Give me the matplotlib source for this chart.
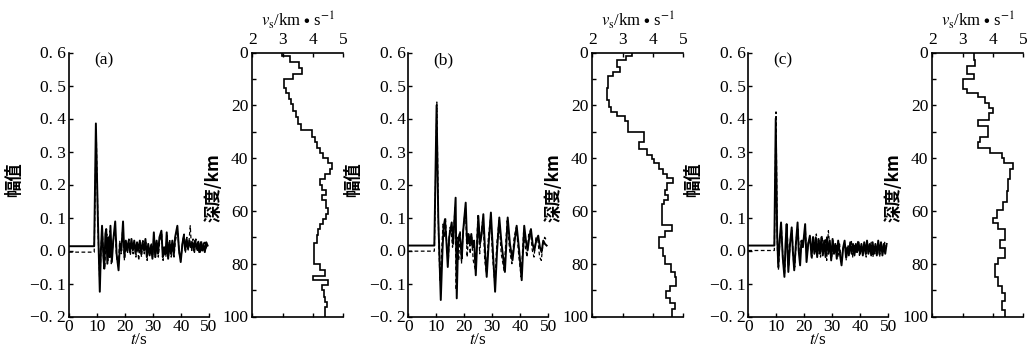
import numpy as np
import matplotlib
matplotlib.use("Agg")
import matplotlib.pyplot as plt

plt.rcParams['font.family'] = ['Liberation Serif', 'DejaVu Serif']
plt.rcParams['mathtext.fontset'] = 'stix'

# ---------------- data ----------------
# receiver functions: (t [s], amplitude) ; solid = observed, dashed = synthetic
rf_a_solid = [(0, 0.013), (9.0, 0.013), (9.6, 0.385), (10.3, 0.10), (11.0, -0.125), (11.4, 0.0), (11.8, 0.075),
              (12.3, -0.02), (12.6, -0.055), (13.0, 0.05), (13.3, 0.065), (13.7, -0.04), (14.1, 0.04), (14.5, -0.02),
              (14.8, 0.075), (15.3, -0.035), (15.8, 0.03), (16.5, 0.088), (17.0, -0.01), (17.7, -0.06), (18.2, 0.02),
              (18.7, 0.0), (19.3, 0.088), (19.8, -0.02), (20.3, 0.03), (20.8, 0.0), (21.3, 0.03), (21.8, -0.005),
              (22.3, 0.035), (22.8, 0.0), (23.3, 0.03), (23.8, -0.01), (24.3, 0.025), (24.8, 0.0), (25.3, 0.03),
              (25.8, -0.01), (26.3, 0.025), (26.8, 0.0), (27.3, 0.035), (27.8, -0.02), (28.3, 0.02), (28.8, -0.015),
              (29.3, 0.015), (29.8, -0.025), (30.3, 0.055), (30.8, -0.02), (31.3, 0.03), (31.8, -0.01), (32.3, 0.04),
              (33.0, 0.06), (33.5, -0.02), (34.0, 0.01), (34.5, -0.01), (34.9, 0.055), (35.4, -0.025), (35.9, 0.025),
              (36.4, -0.01), (36.9, 0.03), (37.4, -0.015), (37.9, 0.04), (38.7, 0.075), (39.3, 0.0), (39.9, -0.035),
              (40.5, 0.02), (41.0, 0.045), (41.5, 0.0), (42.0, 0.035), (42.5, 0.005), (43.0, 0.03), (43.5, 0.01),
              (44.0, 0.025), (44.5, 0.0), (45.0, 0.03), (45.5, 0.005), (46.0, 0.025), (46.5, -0.005), (47.0, 0.025),
              (47.5, 0.0), (48.0, 0.02), (48.5, -0.005), (49.0, 0.025), (49.5, 0.015)]
rf_a_dashed = [(0, -0.005), (9.0, -0.005), (9.7, 0.37), (10.4, 0.05), (11.0, -0.10), (11.5, 0.02), (11.9, 0.06),
               (12.4, -0.04), (12.8, -0.05), (13.2, 0.04), (13.5, 0.05), (13.9, -0.03), (14.3, 0.03), (14.7, 0.06),
               (15.1, -0.04), (15.7, 0.02), (16.4, 0.07), (17.0, -0.02), (17.6, -0.05), (18.1, 0.03), (18.6, -0.01),
               (19.2, 0.07), (19.8, -0.03), (20.4, 0.02), (20.9, -0.01), (21.4, 0.035), (21.9, -0.015), (22.4, 0.02),
               (22.9, -0.01), (23.4, 0.02), (23.9, -0.02), (24.4, 0.02), (24.9, -0.03), (25.4, 0.02), (25.9, -0.02),
               (26.4, 0.03), (26.9, -0.01), (27.4, 0.025), (27.9, -0.03), (28.4, 0.015), (28.9, -0.01), (29.4, 0.02),
               (29.9, -0.02), (30.4, 0.045), (30.9, -0.02), (31.4, 0.025), (31.9, -0.02), (32.4, 0.03), (33.1, 0.05),
               (33.6, -0.03), (34.1, 0.0), (34.6, -0.02), (35.0, 0.045), (35.5, -0.02), (36.0, 0.03), (36.5, -0.02),
               (37.0, 0.02), (37.5, -0.02), (38.0, 0.03), (38.8, 0.06), (39.4, -0.01), (40.0, -0.025), (40.6, 0.03),
               (41.1, 0.05), (41.6, -0.005), (42.1, 0.04), (42.6, 0.0), (43.3, 0.075), (43.8, 0.0), (44.3, 0.035),
               (44.8, -0.01), (45.3, 0.035), (45.8, 0.0), (46.3, 0.03), (46.8, -0.01), (47.3, 0.03), (47.8, -0.005),
               (48.3, 0.025), (48.8, 0.0), (49.4, 0.02)]

rf_b_solid = [(0, 0.015), (9.3, 0.015), (10.1, 0.44), (10.7, 0.10), (11.6, -0.15), (12.2, 0.0), (12.6, 0.07),
              (13.1, 0.095), (13.6, 0.03), (14.1, -0.05), (14.6, 0.04), (15.0, 0.06), (15.5, 0.085), (16.0, 0.02),
              (16.9, 0.16), (17.3, -0.145), (17.8, 0.03), (18.3, 0.05), (18.7, 0.02), (19.1, -0.025), (19.6, 0.06),
              (20.5, 0.145), (21.0, 0.02), (21.5, 0.05), (22.0, 0.02), (22.5, 0.05), (23.0, 0.01), (23.5, 0.03),
              (24.1, -0.075), (25.0, 0.105), (25.6, 0.02), (26.2, 0.05), (26.8, 0.11), (27.4, 0.0), (28.0, -0.08),
              (28.7, 0.02), (29.5, 0.115), (30.2, 0.0), (31.0, -0.125), (31.7, 0.0), (32.5, 0.1), (33.3, 0.02),
              (34.5, -0.065), (35.5, 0.1), (36.3, 0.02), (37.2, -0.03), (38.0, 0.03), (38.7, 0.075), (39.6, 0.0),
              (40.5, -0.09), (41.4, 0.075), (42.0, 0.03), (42.6, 0.0), (43.2, 0.04), (43.8, 0.065), (44.4, 0.02),
              (45.0, 0.0), (45.7, 0.03), (46.4, 0.045), (47.0, 0.01), (47.6, -0.005), (48.2, 0.03), (48.8, 0.02),
              (49.4, 0.015)]
rf_b_dashed = [(0, -0.002), (9.3, -0.002), (10.2, 0.45), (10.8, 0.05), (11.3, -0.09), (11.8, -0.02), (12.4, 0.08),
               (12.9, 0.04), (13.3, 0.1), (13.8, 0.0), (14.3, -0.03), (14.8, 0.07), (15.3, 0.06), (15.8, 0.01),
               (16.7, 0.13), (17.1, -0.12), (17.6, 0.04), (18.0, -0.03), (18.5, 0.06), (19.0, -0.04), (19.5, 0.05),
               (20.4, 0.13), (21.0, -0.02), (21.6, 0.05), (22.1, -0.01), (22.6, 0.04), (23.2, -0.03), (24.0, -0.06),
               (24.9, 0.11), (25.5, -0.01), (26.1, 0.06), (26.7, 0.1), (27.3, -0.03), (27.9, -0.07), (28.6, 0.04),
               (29.4, 0.1), (30.1, -0.02), (30.9, -0.1), (31.6, 0.02), (32.4, 0.09), (33.2, -0.01), (34.2, -0.06),
               (35.3, 0.09), (36.2, 0.0), (37.0, -0.04), (37.8, 0.04), (38.6, 0.07), (39.5, -0.02), (40.3, -0.08),
               (41.2, 0.06), (41.8, 0.01), (42.4, -0.02), (43.0, 0.05), (43.6, 0.06), (44.3, 0.0), (44.9, -0.02),
               (45.6, 0.04), (46.3, 0.03), (46.9, -0.02), (47.5, -0.03), (48.1, 0.02), (48.7, 0.04), (49.4, 0.03)]

rf_c_solid = [(0, 0.015), (9.3, 0.015), (9.8, 0.40), (10.3, 0.05), (10.7, -0.05), (11.2, 0.03), (11.7, 0.085),
              (12.3, -0.02), (12.9, -0.08), (13.3, 0.02), (13.7, 0.08), (14.0, 0.0), (14.3, -0.065), (14.9, 0.02),
              (15.5, 0.07), (15.9, 0.0), (16.4, -0.06), (17.0, 0.02), (17.6, 0.085), (18.0, 0.0), (18.5, -0.045),
              (19.0, 0.03), (19.5, 0.01), (20.3, 0.08), (20.8, -0.035), (21.4, 0.02), (22.0, 0.045), (22.6, -0.02),
              (23.1, 0.04), (23.6, -0.01), (24.1, 0.04), (24.6, -0.02), (25.1, 0.035), (25.6, -0.01), (26.1, 0.04),
              (26.6, -0.015), (27.1, 0.03), (27.6, -0.02), (28.1, 0.04), (28.6, -0.01), (29.1, 0.03), (29.6, -0.03),
              (30.1, 0.035), (30.6, -0.01), (31.1, 0.02), (31.6, -0.025), (32.1, 0.03), (32.7, -0.01), (33.3, -0.045),
              (33.9, 0.01), (34.4, 0.03), (34.9, -0.02), (35.4, 0.01), (35.9, -0.015), (36.4, 0.025), (36.9, -0.01),
              (37.4, 0.02), (37.9, -0.015), (38.4, 0.02), (38.9, -0.005), (39.4, 0.025), (39.9, -0.01), (40.4, 0.02),
              (40.9, -0.015), (41.4, 0.025), (41.9, -0.01), (42.4, 0.03), (42.9, -0.01), (43.4, 0.02), (43.9, -0.015),
              (44.4, 0.025), (44.9, -0.01), (45.4, 0.02), (45.9, -0.015), (46.4, 0.03), (46.9, -0.01), (47.4, 0.025),
              (47.9, -0.015), (48.4, 0.02), (48.9, -0.01), (49.4, 0.02)]
rf_c_dashed = [(0, 0.0), (9.3, 0.0), (9.9, 0.42), (10.4, 0.0), (10.8, -0.06), (11.3, 0.04), (11.8, 0.07),
               (12.4, -0.03), (13.0, -0.07), (13.5, 0.05), (13.9, 0.06), (14.4, -0.05), (15.0, 0.03), (15.6, 0.06),
               (16.2, -0.04), (16.6, -0.05), (17.2, 0.04), (17.7, 0.07), (18.4, -0.03), (18.9, 0.02), (19.6, 0.03),
               (20.4, 0.06), (20.9, -0.02), (21.5, 0.03), (22.1, 0.03), (22.7, -0.025), (23.2, 0.045), (23.8, -0.005),
               (24.3, 0.05), (24.8, -0.01), (25.3, 0.03), (25.8, -0.02), (26.3, 0.045), (26.9, -0.01), (27.5, 0.035),
               (28.0, -0.03), (28.6, 0.06), (29.2, 0.0), (29.8, -0.025), (30.3, 0.03), (30.9, -0.005), (31.5, 0.02),
               (32.0, -0.02), (32.6, 0.02), (33.2, -0.035), (33.8, 0.005), (34.5, 0.02), (35.0, -0.03), (35.6, 0.015),
               (36.2, 0.005), (36.8, 0.03), (37.3, -0.02), (37.9, 0.015), (38.5, -0.01), (39.1, 0.03), (39.7, -0.015),
               (40.3, 0.015), (40.9, -0.005), (41.5, 0.02), (42.1, -0.02), (42.7, 0.02), (43.3, -0.005), (43.9, 0.025),
               (44.5, -0.02), (45.1, 0.015), (45.7, -0.01), (46.3, 0.02), (46.9, -0.02), (47.5, 0.02), (48.1, -0.01),
               (48.7, 0.025), (49.4, 0.01)]

# S-wave velocity models: layer boundaries (km) and velocities (km/s)
depth_edges_a = [0, 1.5, 3.5, 6, 8, 10, 13.5, 15.5, 17.5, 19.5, 22, 24.5, 27, 29.5, 32, 34, 36, 38, 40, 42, 44,
                 46, 48, 50, 52, 54, 56, 59, 61, 63, 65, 67, 69, 72, 80, 82.5, 84.5, 86, 88, 90, 92.5, 94.5, 96.5, 100]
vs_a = [2.97, 3.25, 3.55, 3.65, 3.35, 3.04, 3.12, 3.2, 3.27, 3.35, 3.45, 3.5, 3.6, 3.96, 4.07, 4.12, 4.23, 4.34,
        4.5, 4.62, 4.56, 4.4, 4.23, 4.3, 4.42, 4.29, 4.42, 4.5, 4.42, 4.34, 4.23, 4.18, 4.12, 4.04, 4.23, 4.4, 4.0,
        4.51, 4.3, 4.35, 4.4, 4.45, 4.4]

depth_edges_b = [0, 1.5, 3, 5.5, 7.5, 9, 13.5, 18, 20.5, 22.5, 24, 26, 30, 34, 36.5, 39, 40.5, 42, 44, 46, 47.5,
                 49.5, 52, 54, 56, 57.5, 65.5, 67.5, 70, 74, 77, 80, 83, 85, 88.5, 90.5, 93, 95, 97, 100]
vs_b = [3.3, 3.1, 2.8, 2.9, 2.69, 2.53, 2.47, 2.55, 2.63, 2.8, 3.07, 3.19, 3.72, 3.55, 3.8, 3.96, 4.02, 4.2, 4.34,
        4.45, 4.67, 4.45, 4.4, 4.51, 4.38, 4.31, 4.62, 4.4, 4.2, 4.34, 4.4, 4.6, 4.73, 4.76, 4.57, 4.42, 4.57,
        4.71, 4.64]

depth_edges_c = [0, 3, 5, 8, 10, 14, 15.5, 17, 19, 21, 23, 25.5, 28, 32, 34, 36, 38, 40, 42, 44, 48, 52.5, 56.5,
                 59.5, 62.5, 64.5, 67, 71, 74, 78, 80, 85, 88.5, 91, 94, 97.5, 100]
vs_c = [3.38, 3.42, 3.13, 3.38, 3.02, 3.13, 3.52, 3.74, 3.87, 4.0, 3.87, 3.52, 3.85, 3.57, 3.5, 3.9, 4.29, 4.35,
        4.67, 4.56, 4.5, 4.45, 4.34, 4.12, 4.01, 4.18, 4.4, 4.23, 4.4, 4.18, 4.07, 4.18, 4.29, 4.4, 4.29, 4.4]

panel_labels = ['(a)', '(b)', '(c)']
amp_ticks = [-0.2, -0.1, 0.0, 0.1, 0.2, 0.3, 0.4, 0.5, 0.6]
amp_ticklabels = ['\u22120. 2', '\u22120. 1', '0. 0', '0. 1', '0. 2', '0. 3', '0. 4', '0. 5', '0. 6']
time_ticks = [0, 10, 20, 30, 40, 50]
vel_ticks = [2, 3, 4, 5]
depth_ticks = [0, 20, 40, 60, 80, 100]

# ---------------- figure ----------------
W, H = 1033, 353
fig = plt.figure(figsize=(W / 100, H / 100), dpi=100)

top_px, bot_px = 52.5, 316.5
wf_left = [69, 408.3, 748.3]
wf_w = 140
pr_left = [252.3, 592.3, 932.3]
pr_w = 91

cjk = ['Noto Sans CJK SC', 'DejaVu Sans']
fs = 12.5

def axrect(left, width):
    return [left / W, 1 - bot_px / H, width / W, (bot_px - top_px) / H]

rfs = [(rf_a_solid, rf_a_dashed), (rf_b_solid, rf_b_dashed), (rf_c_solid, rf_c_dashed)]
profiles = [(depth_edges_a, vs_a), (depth_edges_b, vs_b), (depth_edges_c, vs_c)]

for i in range(3):
    ax = fig.add_axes(axrect(wf_left[i], wf_w))
    sol = np.array(rfs[i][0])
    das = np.array(rfs[i][1])
    ax.plot(das[:, 0], das[:, 1], color='black', lw=0.9, ls=(0, (3, 2)))
    ax.plot(sol[:, 0], sol[:, 1], color='black', lw=1.4)
    ax.set_xlim(0, 50)
    ax.set_ylim(-0.2, 0.6)
    ax.set_xticks(time_ticks)
    ax.set_yticks(amp_ticks)
    ax.set_yticklabels(amp_ticklabels)
    for s in ['top', 'right']:
        ax.spines[s].set_visible(False)
    for s in ['left', 'bottom']:
        ax.spines[s].set_linewidth(1.2)
    ax.tick_params(direction='in', length=3, width=1, labelsize=fs, pad=2)
    ax.set_xlabel('$t$/s', fontsize=fs, labelpad=-2)
    ax.set_ylabel('幅值', fontsize=12.5, family=cjk, fontweight='bold')
    ax.yaxis.set_label_coords(-0.33, 0.52)
    ax.text(12.5, 0.575, panel_labels[i], ha='center', va='center', fontsize=fs)

    ax2 = fig.add_axes(axrect(pr_left[i], pr_w))
    edges, vs = profiles[i]
    ax2.stairs(vs, edges, orientation='horizontal', baseline=None, color='black', lw=1.2)
    ax2.set_xlim(2, 5)
    ax2.set_ylim(100, 0)
    ax2.set_xticks(vel_ticks)
    ax2.set_yticks(depth_ticks)
    ax2.set_yticks([10, 30, 50, 70, 90], minor=True)
    ax2.xaxis.set_ticks_position('both')
    ax2.xaxis.set_label_position('top')
    ax2.tick_params(axis='x', labeltop=True, labelbottom=False)
    ax2.spines['right'].set_visible(False)
    for s in ['left', 'bottom', 'top']:
        ax2.spines[s].set_linewidth(1.2)
    ax2.tick_params(axis='x', direction='in', length=3, width=1, labelsize=fs, pad=3)
    ax2.tick_params(axis='y', direction='in', length=3, width=1, labelsize=fs, pad=3)
    ax2.tick_params(which='minor', direction='in', length=3, width=1)
    ax2.set_xlabel(r'$v_{\rm s}$/km $\bullet$ s$^{-1}$', fontsize=12, labelpad=4)
    ax2.set_ylabel('深度/km', fontsize=12.5, family=cjk, fontweight='bold')
    ax2.yaxis.set_label_coords(-0.33, 0.49)

fig.savefig('out.png', dpi=100, facecolor='white')
